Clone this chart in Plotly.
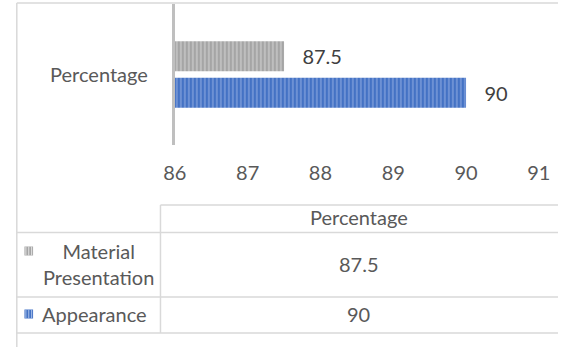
import plotly.graph_objects as go

# ---- data ----
series_names = ["Appearance", "Material Presentation"]   # bottom to top
series_values = [90, 87.5]
category = ["Percentage"]
x_ticks = [86, 87, 88, 89, 90, 91]
table_header = "Percentage"
table_rows = ["Material<br>Presentation", "Appearance"]
table_values = [87.5, 90]

W, H = 570, 347
TXT = "#595959"
FONT = "Lato"
GRID = "#D9D9D9"
FS = 20

def px(x):
    return x / W

def py(y):
    return 1 - y / H

colors_bg = {"Appearance": "#4472C4", "Material Presentation": "#A5A5A5"}
colors_fg = {"Appearance": "#A9C1EA", "Material Presentation": "#E3E3E3"}

fig = go.Figure()
for name, val in zip(series_names, series_values):
    fig.add_trace(go.Bar(
        y=category, x=[val], name=name, orientation="h",
        marker=dict(color=colors_bg[name], line=dict(width=0),
                    pattern=dict(shape="|", bgcolor=colors_bg[name],
                                 fgcolor=colors_fg[name], size=4, solidity=0.4)),
        text=["\u00a0\u00a0\u00a0" + f"{val:g}"], textposition="outside",
        textfont=dict(family=FONT, size=FS, color="#404040"),
        cliponaxis=True,
    ))

fig.update_layout(
    width=W, height=H, margin=dict(l=0, r=0, t=0, b=0),
    paper_bgcolor="white", plot_bgcolor="white",
    barmode="group", bargap=0.482, bargroupgap=0.178,
    showlegend=False,
    xaxis=dict(domain=[px(170), px(550)], range=[86, 91], tickvals=x_ticks,
               showgrid=False, zeroline=False, showline=False,
               ticks="outside", ticklen=10, tickcolor="rgba(0,0,0,0)",
               tickfont=dict(family=FONT, size=FS, color=TXT)),
    yaxis=dict(domain=[py(145), py(4)], showgrid=False, zeroline=False,
               showline=True, linecolor="#BFBFBF", linewidth=3,
               ticks="outside", ticklen=20, tickcolor="rgba(0,0,0,0)",
               tickfont=dict(family=FONT, size=FS, color=TXT)),
    font=dict(family=FONT, color=TXT),
)

shapes = []
def line(x0, y0, x1, y1, w=1.5, c=GRID):
    shapes.append(dict(type="line", xref="paper", yref="paper",
                       x0=px(x0), y0=py(y0), x1=px(x1), y1=py(y1),
                       line=dict(color=c, width=w)))

# outer border
line(5, 3, 570, 3)
line(5, 3, 5, 347)
# data table grid
line(155, 205, 570, 205)
line(5, 232.5, 570, 232.5)
line(5, 297, 570, 297)
line(5, 333, 570, 333)
line(155, 205, 155, 333)

# legend keys
key_y = [251, 314]
key_names = ["Material Presentation", "Appearance"]
for yc, nm in zip(key_y, key_names):
    shapes.append(dict(type="rect", xref="paper", yref="paper",
                       x0=px(13), x1=px(22), y0=py(yc + 4.5), y1=py(yc - 4.5),
                       fillcolor=colors_bg[nm], line=dict(width=0)))
    for xs in (14.5, 17.5, 20.5):
        shapes.append(dict(type="line", xref="paper", yref="paper",
                           x0=px(xs), x1=px(xs), y0=py(yc + 4.5), y1=py(yc - 4.5),
                           line=dict(color=colors_fg[nm], width=1)))
fig.update_layout(shapes=shapes)

ann = []
def add_text(t, x, y):
    ann.append(dict(text=t, x=px(x), y=py(y), xref="paper", yref="paper",
                    xanchor="center", yanchor="middle", showarrow=False, align="center",
                    font=dict(family=FONT, size=FS, color=TXT)))

add_text(table_header, 362, 217)
row_y = [264, 314]
label_x = [90, 86]
for lab, val, yc, lx in zip(table_rows, table_values, row_y, label_x):
    add_text(lab, lx, yc)
    add_text(f"{val:g}", 362, yc)
fig.update_layout(annotations=ann)

fig.write_html("out.html")
